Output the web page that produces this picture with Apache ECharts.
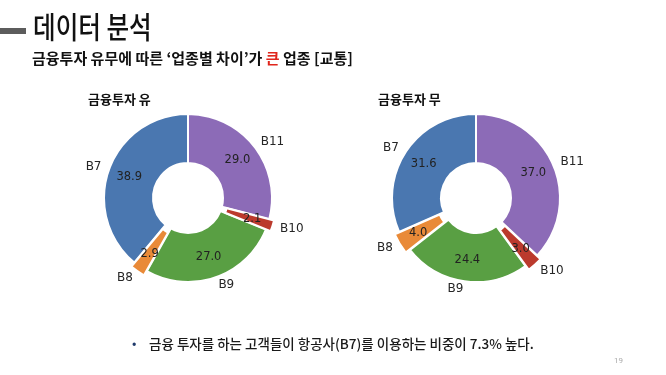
<!DOCTYPE html>
<html>
<head>
<meta charset="utf-8">
<script src="https://cdn.jsdelivr.net/npm/echarts@6/dist/echarts.min.js"></script>
<style>
  html, body { margin: 0; padding: 0; background: #fff; }
  #main { width: 666px; height: 375px; }
</style>
</head>
<body>
<div id="main"></div>
<script>
var categories = ['B7', 'B8', 'B9', 'B10', 'B11'];
var withInvest = [38.9, 2.9, 27.0, 2.1, 29.0];
var withoutInvest = [31.6, 4.0, 24.4, 3.0, 37.0];
var exploded = ['B8', 'B10'];
var colors = ['#4a77b0', '#e98a38', '#599f43', '#bb3a2d', '#8c6bb7'];

var cjk = 'Noto Sans CJK KR';
var mpl = 'DejaVu Sans';

function makeData(values, transparent) {
  return categories.map(function (name, i) {
    return {
      name: name,
      value: values[i],
      selected: exploded.indexOf(name) >= 0,
      itemStyle: transparent ? { color: 'rgba(0,0,0,0)', borderWidth: 0 } : { color: colors[i] }
    };
  });
}

// colored ring with outside category labels, plus a transparent copy for the % labels
function donut(values, cx) {
  var common = {
    type: 'pie',
    center: [cx, 198],
    radius: [35, 84],
    startAngle: 90,
    clockwise: false,
    selectedMode: 'multiple',
    selectedOffset: 5,
    avoidLabelOverlap: false,
    silent: true,
    animation: false
  };
  var ring = Object.assign({}, common, {
    itemStyle: { borderColor: '#fff', borderWidth: 2 },
    label: {
      show: true,
      position: 'outside',
      distanceToLabelLine: 0,
      formatter: '{b}',
      fontFamily: mpl,
      fontSize: 12,
      color: '#262626'
    },
    labelLine: { show: false, length: 8, length2: 0 },
    data: makeData(values, false)
  });
  var pct = Object.assign({}, common, {
    label: {
      show: true,
      position: 'inside',
      formatter: function (p) { return p.value.toFixed(1); },
      fontFamily: mpl,
      fontSize: 11.5,
      color: '#222'
    },
    labelLine: { show: false },
    data: makeData(values, true)
  });
  return [ring, pct];
}

var chart = echarts.init(document.getElementById('main'), null, { renderer: 'canvas' });

var option = {
  backgroundColor: '#fff',
  title: [{
    text: '{a|금융투자 유무에 따른 ‘업종별 차이’가 }{r|큰}{a| 업종 [교통]}',
    left: 32, top: 51, padding: 0,
    textStyle: {
      rich: {
        a: { fontFamily: cjk, fontSize: 15, fontWeight: 'bold', color: '#111' },
        r: { fontFamily: cjk, fontSize: 15, fontWeight: 'bold', color: '#e0261c' }
      }
    }
  }, {
    text: '금융투자 유',
    left: 88, top: 93, padding: 0,
    textStyle: { fontFamily: cjk, fontSize: 13, fontWeight: 'bold', color: '#111' }
  }, {
    text: '금융투자 무',
    left: 378, top: 93, padding: 0,
    textStyle: { fontFamily: cjk, fontSize: 13, fontWeight: 'bold', color: '#111' }
  }, {
    text: '•',
    left: 132, top: 337, padding: 0,
    textStyle: { fontFamily: cjk, fontSize: 13, fontWeight: 'normal', color: '#1f3a6b' }
  }, {
    text: '금융 투자를 하는 고객들이 항공사(B7)를 이용하는 비중이 7.3% 높다.',
    left: 149, top: 337, padding: 0,
    textStyle: { fontFamily: cjk, fontSize: 13.5, fontWeight: 500, color: '#1a1a1a' }
  }, {
    text: '19',
    left: 614, top: 357, padding: 0,
    textStyle: { fontFamily: 'Roboto', fontSize: 8, fontWeight: 'normal', color: '#aaa' }
  }],
  graphic: [{
    type: 'rect',
    shape: { x: 0, y: 28, width: 26, height: 6 },
    style: { fill: '#5c5c5c' }
  }, {
    type: 'text',
    x: 33, y: 12,
    scaleX: 0.82,
    style: {
      text: '데이터 분석',
      fontFamily: cjk, fontSize: 30, fontWeight: 500, fill: '#111'
    }
  }],
  series: donut(withInvest, 188).concat(donut(withoutInvest, 476))
};

chart.setOption(option);
</script>
</body>
</html>
